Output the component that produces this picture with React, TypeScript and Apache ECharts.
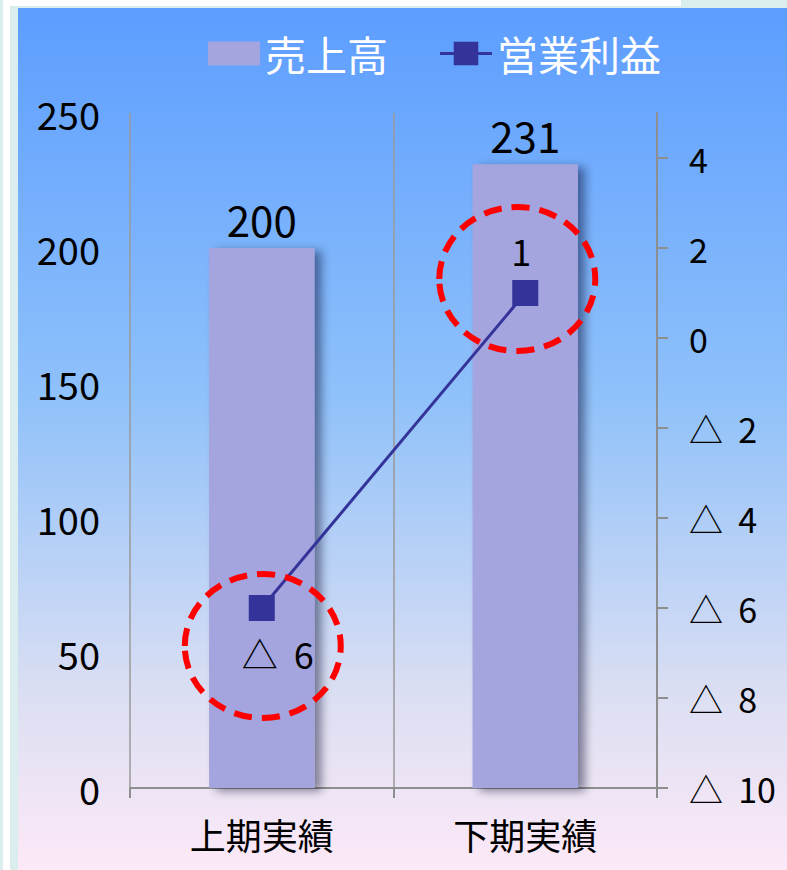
import React, { useEffect, useRef } from "react";
import * as echarts from "echarts";

const categories = ["上期実績", "下期実績"];
const salesValues = [200, 231];
const profitValues = [-6, 1];
const rightTickValues = [-10, -8, -6, -4, -2, 0, 2, 4];
const legendNames = ["売上高", "営業利益"];

const FONT = "Noto Sans CJK JP";
const fmtSigned = (v: number) => (v < 0 ? "△  " + Math.abs(v) : String(v));

const LINE_LEGEND_ICON =
  "path://M0,10.5 L53,10.5 L53,13.5 L0,13.5 Z M14,0 L39,0 L39,24 L14,24 Z";

export default function App() {
  const ref = useRef<HTMLDivElement>(null);
  useEffect(() => {
    if (!ref.current) return;
    const chart = echarts.init(ref.current, undefined, { renderer: "svg" });
    chart.setOption({
      animation: false,
      backgroundColor: {
        type: "linear",
        x: 0,
        y: 0,
        x2: 0,
        y2: 1,
        colorStops: [
          { offset: 0, color: "#5c9dff" },
          { offset: 0.45, color: "#8fc1fa" },
          { offset: 0.8, color: "#dcdff3" },
          { offset: 1, color: "#fde9f7" },
        ],
      },
      legend: {
        data: [
          { name: legendNames[0], icon: "rect" },
          { name: legendNames[1], icon: LINE_LEGEND_ICON, itemStyle: { color: "#333399" } },
        ],
        left: 185,
        top: 20,
        itemWidth: 52,
        itemHeight: 24,
        itemGap: 52,
        textStyle: { color: "#ffffff", fontSize: 41, fontFamily: FONT },
      },
      grid: { left: 112, right: 130, top: 105, bottom: 82 },
      xAxis: {
        type: "category",
        data: categories,
        axisLine: { show: true, lineStyle: { color: "#8e8e8e", width: 2 } },
        axisTick: { show: true, length: 10, lineStyle: { color: "#8e8e8e", width: 2 } },
        splitLine: { show: true, lineStyle: { color: "#9a9a9a", width: 1.5 } },
        axisLabel: { color: "#000", fontSize: 36, fontFamily: FONT, margin: 28 },
      },
      yAxis: [
        {
          type: "value",
          min: 0,
          max: 250,
          interval: 50,
          axisLine: { show: false },
          axisTick: { show: false },
          splitLine: { show: false },
          axisLabel: { color: "#000", fontSize: 38, fontFamily: FONT, margin: 30 },
        },
        {
          type: "value",
          min: -10,
          max: 5,
          position: "right",
          axisLine: { show: true, lineStyle: { color: "#8e8e8e", width: 2 } },
          axisTick: {
            show: true,
            length: 11,
            customValues: rightTickValues,
            lineStyle: { color: "#8e8e8e", width: 2 },
          },
          splitLine: { show: false },
          axisLabel: {
            color: "#000",
            fontSize: 34,
            fontFamily: FONT,
            margin: 32,
            customValues: rightTickValues,
            formatter: (v: number) => fmtSigned(v),
          },
        },
      ],
      series: [
        {
          name: legendNames[0],
          type: "bar",
          data: salesValues,
          barWidth: "40%",
          itemStyle: {
            color: "#a4a4de",
            shadowBlur: 10,
            shadowColor: "rgba(0,0,40,0.45)",
            shadowOffsetX: 7,
            shadowOffsetY: 3,
          },
          label: {
            show: true,
            position: "top",
            distance: 9,
            color: "#000",
            fontSize: 42,
            fontFamily: FONT,
          },
        },
        {
          name: legendNames[1],
          type: "line",
          yAxisIndex: 1,
          data: profitValues.map((v) => ({
            value: v,
            label:
              v < 0
                ? { position: "bottom", distance: 14, offset: [16, 0] }
                : { position: "top", distance: 12, offset: [-4, 0] },
          })),
          symbol: "rect",
          symbolSize: 26,
          lineStyle: { color: "#333399", width: 3 },
          itemStyle: { color: "#333399" },
          label: {
            show: true,
            color: "#000",
            fontSize: 36,
            fontFamily: FONT,
            formatter: (p: any) => fmtSigned(p.value),
          },
        },
      ],
    });

    const p0 = chart.convertToPixel({ seriesIndex: 1 }, [0, profitValues[0]]) as number[];
    const p1 = chart.convertToPixel({ seriesIndex: 1 }, [1, profitValues[1]]) as number[];
    const ring = (cx: number, cy: number) => ({
      type: "ellipse",
      shape: { cx, cy, rx: 78, ry: 72 },
      style: { fill: "none", stroke: "#ff0000", lineWidth: 6, lineDash: [18, 10] },
      z: 100,
    });
    chart.setOption({
      graphic: [ring(p0[0] + 1, p0[1] + 38), ring(p1[0] - 8, p1[1] - 14)],
    });

    return () => chart.dispose();
  }, []);

  return (
    <div style={{ position: "fixed", left: 0, top: 0, width: 787, height: 870, background: "#dbeeee", overflow: "hidden" }}>
      <div style={{ position: "absolute", left: 3, top: 0, width: 7, height: 870, background: "#ffffff" }} />
      <div style={{ position: "absolute", left: 6, top: 0, width: 675, height: 6, background: "#ffffff" }} />
      <div ref={ref} style={{ position: "absolute", left: 18, top: 8, width: 769, height: 862 }} />
    </div>
  );
}
